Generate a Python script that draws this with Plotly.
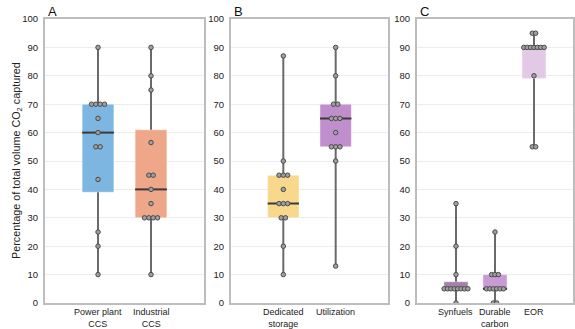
"""
Share of captured CO2 volume by pathway, three box-plot panels
"""
import plotly.graph_objects as go

# ---- data -------------------------------------------------------------
cats_a = ["Power plant<br>CCS", "Industrial<br>CCS"]
q1_a = [39, 30]
med_a = [60, 40]
q3_a = [70, 61]
lo_a = [10, 10]
hi_a = [90, 90]
pts_power = [90, 70, 70, 70, 70, 65, 60, 55, 55, 43.5, 25, 20, 10]
pts_industrial = [90, 80, 75, 56.5, 45, 45, 40, 35, 30, 30, 30, 30, 10]

cats_b = ["Dedicated<br>storage", "Utilization"]
q1_b = [30, 55]
med_b = [35, 65]
q3_b = [45, 70]
lo_b = [10, 13]
hi_b = [87, 90]
pts_storage = [87, 50, 45, 45, 45, 40, 35, 35, 35, 30, 30, 20, 10]
pts_utilization = [90, 80, 70, 70, 65, 65, 65, 60, 55, 55, 55, 50, 13]

cats_c = ["Synfuels", "Durable<br>carbon", "EOR"]
q1_c = [5, 5, 79]
med_c = [5, 5, 90]
q3_c = [7.5, 10, 90]
lo_c = [0, 0, 55]
hi_c = [35, 25, 95]
pts_synfuels = [35, 20, 10, 5, 5, 5, 5, 5, 5, 5, 5, 0]
pts_durable = [25, 10, 10, 10, 5, 5, 5, 5, 5, 5, 0, 0]
pts_eor = [95, 95, 90, 90, 90, 90, 90, 90, 90, 80, 55, 55]

colors_a = ["rgb(125,182,225)", "rgb(239,167,138)"]
colors_b = ["rgb(248,216,140)", "rgb(192,142,204)"]
colors_c = ["rgb(168,128,174)", "rgb(200,155,212)", "rgb(226,202,230)"]

FONT = "Liberation Sans, Arial, sans-serif"


def _swarm_x(values, center, step):
    """Spread equal values side by side around the category centre."""
    xs = []
    for j, v in enumerate(values):
        n = values.count(v)
        k = values[:j].count(v)
        xs.append(center + (k - (n - 1) / 2) * step)
    return xs


def add_panel(fig, axis_id, cats, q1, med, q3, lo, hi, points, colors, width, step):
    suffix = "" if axis_id == 1 else str(axis_id)
    xref, yref = f"x{suffix}", f"y{suffix}"
    idx = list(range(len(cats)))

    fig.add_trace(go.Bar(x=idx, y=[b - a for a, b in zip(q1, q3)], base=q1, width=width,
                         marker=dict(color=colors, line=dict(color="rgba(255,255,255,0.45)", width=1)),
                         xaxis=xref, yaxis=yref, showlegend=False, hoverinfo="skip"))

    wx, wy, mx, my = [], [], [], []
    for i in idx:
        wx += [i, i, None, i, i, None]
        wy += [lo[i], q1[i], None, q3[i], hi[i], None]
        mx += [i - width / 2, i + width / 2, None]
        my += [med[i], med[i], None]
    fig.add_trace(go.Scatter(x=wx, y=wy, mode="lines", line=dict(color="#6a6a6a", width=2),
                             xaxis=xref, yaxis=yref, showlegend=False, hoverinfo="skip"))
    fig.add_trace(go.Scatter(x=mx, y=my, mode="lines", line=dict(color="#3a3a3a", width=2),
                             xaxis=xref, yaxis=yref, showlegend=False, hoverinfo="skip"))

    for i, vals in zip(idx, points):
        fig.add_trace(go.Scatter(x=_swarm_x(vals, i, step), y=vals, mode="markers",
                                 marker=dict(size=4.5, color="#a0a0a0",
                                             line=dict(color="#4a4a4a", width=1)),
                                 xaxis=xref, yaxis=yref, showlegend=False))

    # category labels sit just under the frame
    for i, label in zip(idx, cats):
        fig.add_annotation(text=label, x=i, y=0, xref=xref, yref=f"{yref} domain",
                           xanchor="center", yanchor="top", yshift=-2, showarrow=False,
                           font=dict(size=9, color="#222", family=FONT))

    fig.update_layout({
        f"xaxis{suffix}": dict(
            range=[-1, len(cats)], anchor=yref, showticklabels=False,
            showgrid=False, zeroline=False, showline=True, mirror=True,
            linecolor="#bdbdbd", linewidth=2, ticks="", automargin=False),
        f"yaxis{suffix}": dict(
            range=[0, 100], dtick=10, anchor=xref, showgrid=True, gridcolor="#ececec",
            gridwidth=1, zeroline=False, showline=True, mirror=True,
            linecolor="#bdbdbd", linewidth=2, ticks="outside", ticklen=3, tickcolor="rgba(0,0,0,0)",
            automargin=False, tickfont=dict(size=9.5, color="#222", family=FONT)),
    })


fig = go.Figure()
add_panel(fig, 1, cats_a, q1_a, med_a, q3_a, lo_a, hi_a, [pts_power, pts_industrial],
          colors_a, 0.6, 0.082)
add_panel(fig, 2, cats_b, q1_b, med_b, q3_b, lo_b, hi_b, [pts_storage, pts_utilization],
          colors_b, 0.6, 0.082)
add_panel(fig, 3, cats_c, q1_c, med_c, q3_c, lo_c, hi_c, [pts_synfuels, pts_durable, pts_eor],
          colors_c, 0.62, 0.087)

fig.update_layout(
    xaxis=dict(domain=[0.0783, 0.3548]),
    xaxis2=dict(domain=[0.4017, 0.6748]),
    xaxis3=dict(domain=[0.7252, 0.9965]),
    width=575, height=329,
    margin=dict(l=0, r=0, t=19, b=26),
    plot_bgcolor="white", paper_bgcolor="white",
    font=dict(family=FONT, color="#222"),
    barmode="overlay",
)

for letter, x0 in zip(["A", "B", "C"], [0.0783, 0.4017, 0.7252]):
    fig.add_annotation(text=letter, x=x0, y=1.0, xref="paper", yref="paper",
                       xanchor="left", yanchor="bottom", showarrow=False, xshift=1, yshift=-2,
                       font=dict(size=13, color="#111", family=FONT))

fig.add_annotation(text="Percentage of total volume CO<sub>2</sub> captured",
                   x=0.014, y=0.5, xref="paper", yref="paper", textangle=-90,
                   showarrow=False, font=dict(size=10.8, color="#222", family=FONT))

# the page body has a default margin; drop it so the figure fills the window
fig.write_html("out.html", config={"displayModeBar": False},
               post_script="document.body.style.margin = '0';")
